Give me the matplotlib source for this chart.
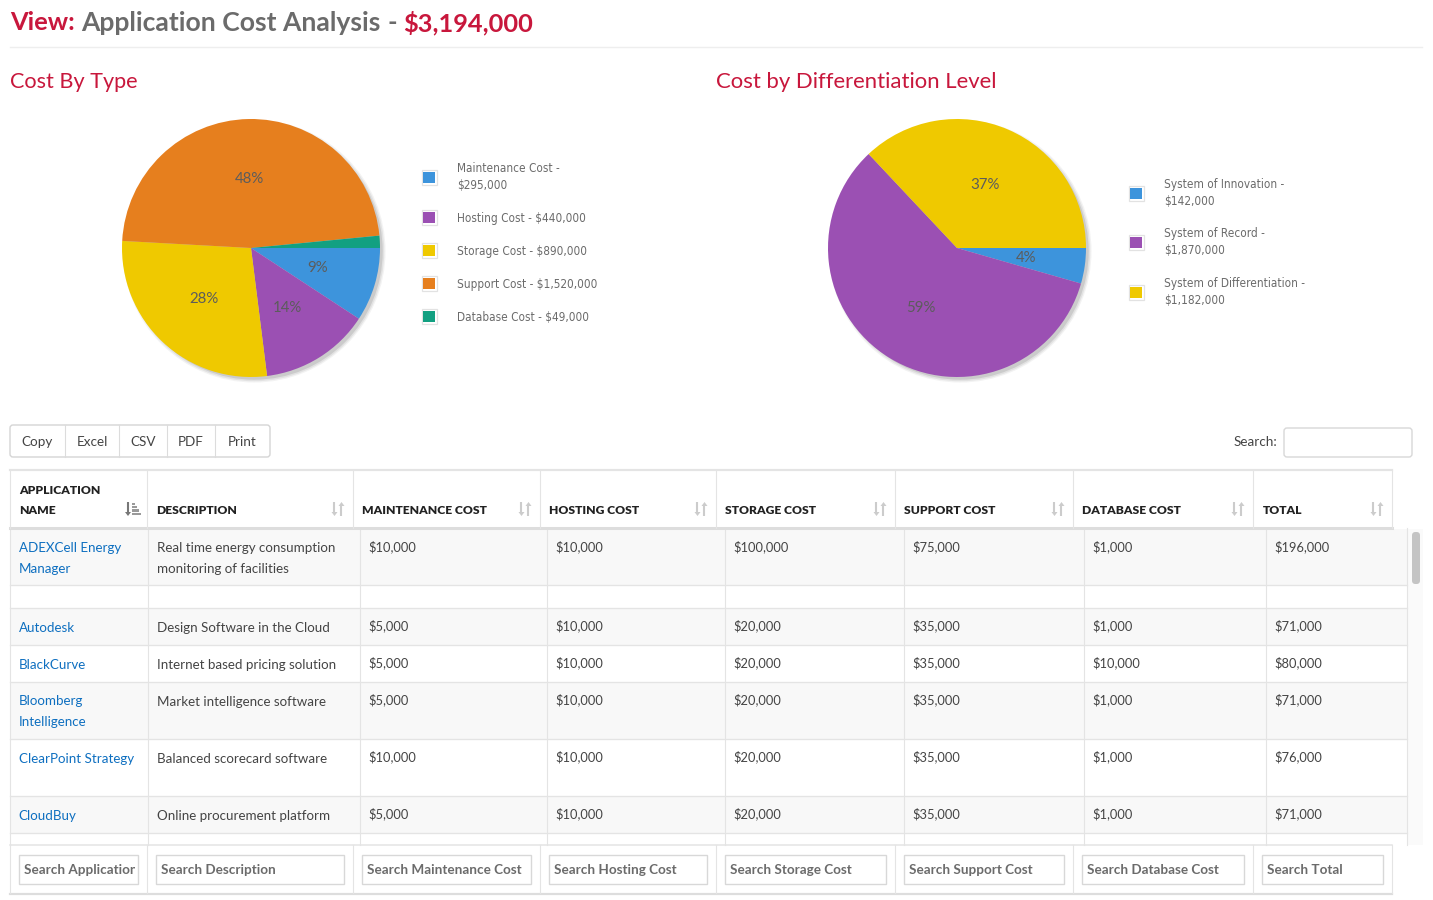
"""
Application cost dashboard: two pies, export buttons and the cost table.
"""

import matplotlib
matplotlib.use('Agg')
import matplotlib.pyplot as plt
from matplotlib.patches import Circle, FancyBboxPatch, Polygon, Rectangle

plt.rcParams['font.family'] = ['Lato', 'DejaVu Sans']

W, H = 1433, 900

RED = '#c8173c'
GREY = '#6b6b6b'
TEXT = '#444444'
LINK = '#0e6fc0'
LINE = '#e4e4e4'

# pie data
type_labels = ['Maintenance Cost -\n$295,000', 'Hosting Cost - $440,000', 'Storage Cost - $890,000',
               'Support Cost - $1,520,000', 'Database Cost - $49,000']
type_values = [295000, 440000, 890000, 1520000, 49000]
type_colors = ['#3d94dc', '#9b50b3', '#efc900', '#e67f1e', '#12a081']

level_labels = ['System of Innovation -\n$142,000', 'System of Record -\n$1,870,000',
                'System of Differentiation -\n$1,182,000']
level_values = [142000, 1870000, 1182000]
level_colors = ['#3d94dc', '#9b50b3', '#efc900']

# table data
headers = ['APPLICATION\nNAME', 'DESCRIPTION', 'MAINTENANCE COST', 'HOSTING COST', 'STORAGE COST',
           'SUPPORT COST', 'DATABASE COST', 'TOTAL']
footers = ['Search Application', 'Search Description', 'Search Maintenance Cost', 'Search Hosting Cost',
           'Search Storage Cost', 'Search Support Cost', 'Search Database Cost', 'Search Total']
names = ['ADEXCell Energy\nManager', '', 'Autodesk', 'BlackCurve', 'Bloomberg\nIntelligence',
         'ClearPoint Strategy', 'CloudBuy']
descriptions = ['Real time energy consumption\nmonitoring of facilities', '', 'Design Software in the Cloud',
                'Internet based pricing solution', 'Market intelligence software',
                'Balanced scorecard software', 'Online procurement platform']
maintenance = ['$10,000', '', '$5,000', '$5,000', '$5,000', '$10,000', '$5,000']
hosting = ['$10,000', '', '$10,000', '$10,000', '$10,000', '$10,000', '$10,000']
storage = ['$100,000', '', '$20,000', '$20,000', '$20,000', '$20,000', '$20,000']
support = ['$75,000', '', '$35,000', '$35,000', '$35,000', '$35,000', '$35,000']
database = ['$1,000', '', '$1,000', '$10,000', '$1,000', '$1,000', '$1,000']
total = ['$196,000', '', '$71,000', '$80,000', '$71,000', '$76,000', '$71,000']
buttons = ['Copy', 'Excel', 'CSV', 'PDF', 'Print']

# layout in screen pixels
head_x = [10, 147, 353, 540, 716, 895, 1073, 1253, 1392]
body_x = [10, 148, 360, 547, 725, 904, 1084, 1266, 1407]
row_y = [529, 585, 608, 645, 682, 739, 796, 833, 845]
button_x = [10, 65, 119, 167, 215, 270]


def pct_label(pct):
    return '%.0f%%' % pct if pct >= 2 else ''


def draw_pie(fig, cx, cy, values, colors):
    r = 129
    ax = fig.add_axes([(cx - r) / W, 1 - (cy + r) / H, 2 * r / W, 2 * r / H])
    # soft drop shadow to the lower right
    for grow, alpha in ((0.03, 0.07), (0.02, 0.1), (0.008, 0.16)):
        ax.add_patch(Circle((0.025, -0.025), 1 + grow - 0.012, color='#555555', alpha=alpha, lw=0, clip_on=False))
    wedges, _, autotexts = ax.pie(values, colors=colors, startangle=0, counterclock=False, radius=1,
                                  autopct=pct_label, pctdistance=0.54, frame=False,
                                  wedgeprops={'linewidth': 0})
    for t in autotexts:
        t.set_fontsize(10.8)
        t.set_color('#5c5c5c')
        px, py = t.get_position()
        t.set_position((px, py - 0.004))
    for w in wedges:
        w.set_clip_on(False)
    ax.set_xlim(-1, 1)
    ax.set_ylim(-1, 1)
    ax.axis('off')


def draw_legend(ax, x, ys, labels, colors):
    for y, label, color in zip(ys, labels, colors):
        ax.add_patch(Rectangle((x, y - 7.5), 15, 15, fc='white', ec='#e2e2e2', lw=0.9))
        ax.add_patch(Rectangle((x + 1.5, y - 5.5), 12, 11, fc=color, lw=0))
        offset = 0.2 if '\n' in label else 1.2
        ax.text(x + 35, y + offset, label, fontsize=8.5, color=GREY, va='center', ha='left', linespacing=1.4,
                family=['DejaVu Sans'], stretch='condensed')


def draw_arrow(ax, x, y0, y1, color):
    # y0 is the tail, y1 the tip
    head = 4 if y1 > y0 else -4
    ax.plot([x, x], [y0, y1 - head], color=color, lw=1.5, solid_capstyle='butt')
    ax.add_patch(Polygon([(x - 3, y1 - head), (x + 3, y1 - head), (x, y1)], fc=color, lw=0))


def draw_sort_icon(ax, x, y, active=False):
    if active:
        draw_arrow(ax, x - 4, y - 7, y + 7, '#777777')
        for i, bar in enumerate((3, 5, 7, 9)):
            ax.add_patch(Rectangle((x + 0.5, y - 6.5 + i * 3.4), bar, 2.2, fc='#9a9a9a', lw=0))
    else:
        draw_arrow(ax, x - 3.5, y - 7, y + 7, '#cccccc')
        draw_arrow(ax, x + 3.5, y + 7, y - 7, '#cccccc')


def draw_table(ax):
    # body rows with stripes
    for i in range(len(row_y) - 1):
        if i % 2 == 0:
            ax.add_patch(Rectangle((10, row_y[i]), 1397, row_y[i + 1] - row_y[i], fc='#f8f8f8', lw=0))
        if i < len(row_y) - 2:
            ax.plot([10, 1407], [row_y[i + 1]] * 2, color=LINE, lw=0.95)
    for x in body_x:
        ax.plot([x, x], [528, 845], color=LINE, lw=0.8)

    columns = [names, descriptions, maintenance, hosting, storage, support, database, total]
    for c, col in enumerate(columns):
        for r, value in enumerate(col):
            # baseline alignment goes by the last line of the text
            base = row_y[r] + (24 if c < 2 else 22.5) + 20 * value.count('\n')
            ax.text(body_x[c] + 8.8, base, value, fontsize=9.65 if c < 2 else 9.25,
                    color=LINK if c == 0 else TEXT, va='baseline', ha='left', linespacing=1.9)

    # header
    ax.add_patch(Rectangle((10, 470), 1382, 58, fc='white', lw=0))
    ax.plot([10, 1392], [470, 470], color=LINE, lw=1.6)
    ax.plot([10, 1392], [528, 528], color='#dddddd', lw=2.2)
    for x in head_x:
        ax.plot([x, x], [470, 528], color=LINE, lw=0.8)
    for c, label in enumerate(headers):
        ax.text(head_x[c] + 9.5, 514, label, fontsize=8.7, fontweight='heavy', color='#222222',
                va='baseline', ha='left', linespacing=1.98)
        draw_sort_icon(ax, head_x[c + 1] - 15, 509, active=c == 0)

    # scrollbar
    ax.add_patch(Rectangle((1407, 529), 16, 316, fc='#fafafa', lw=0))
    ax.add_patch(FancyBboxPatch((1412, 532), 8, 52, boxstyle='round,pad=0,rounding_size=3.5', fc='#c4c4c4', lw=0))

    # footer search boxes
    ax.add_patch(Rectangle((10, 845), 1382, 48, fc='white', lw=0))
    ax.plot([10, 1392], [845, 845], color=LINE, lw=1.1)
    ax.plot([10, 1392], [893.5, 893.5], color='#dddddd', lw=1.6)
    for x in head_x:
        ax.plot([x, x], [845, 893], color=LINE, lw=0.8)
    for c, label in enumerate(footers):
        left = head_x[c] + 9
        width = head_x[c + 1] - head_x[c] - 18
        ax.add_patch(Rectangle((left, 855), width, 29, fc='white', ec='#d8d8d8', lw=1))
        # long placeholders get cut at the box padding
        clip = Rectangle((left + 2, 856), width - 5, 27, transform=ax.transData)
        t = ax.text(head_x[c] + 14, 870, label, fontsize=9.7, fontweight='bold', color=GREY, va='center', ha='left',
                    clip_on=True)
        t.set_clip_path(clip)


def main():
    fig = plt.figure(figsize=(W / 100, H / 100), dpi=100, facecolor='white')
    ax = fig.add_axes([0, 0, 1, 1])
    ax.set_xlim(0, W)
    ax.set_ylim(H, 0)
    ax.axis('off')

    # title pieces
    for x, s, color, size in ((10, 'View:', RED, 18.3), (81, 'Application Cost Analysis', GREY, 19.1),
                              (388, '-', GREY, 18.5), (403, '$3,194,000', RED, 18.3)):
        ax.text(x, 23, s, fontsize=size, fontweight='bold', color=color, va='center', ha='left')
    ax.plot([10, 1422], [47, 47], color='#eeeeee', lw=1)

    ax.text(10, 82, 'Cost By Type', fontsize=15.6, color=RED, va='center', ha='left')
    ax.text(716, 82, 'Cost by Differentiation Level', fontsize=15.95, color=RED, va='center', ha='left')

    draw_pie(fig, 251, 248, type_values, type_colors)
    draw_pie(fig, 957, 248, level_values, level_colors)
    draw_legend(ax, 422, [177, 217, 250, 283, 316], type_labels, type_colors)
    draw_legend(ax, 1129, [193, 242, 292], level_labels, level_colors)

    # export buttons
    ax.add_patch(FancyBboxPatch((10, 425), 260, 32, boxstyle='round,pad=0,rounding_size=3', fc='white',
                                ec='#d5d5d5', lw=1))
    for i, label in enumerate(buttons):
        if i:
            ax.plot([button_x[i]] * 2, [425, 457], color='#dcdcdc', lw=0.8)
        ax.text((button_x[i] + button_x[i + 1]) / 2, 441.5, label, fontsize=9.7, color=TEXT, va='center', ha='center')

    ax.text(1277, 441.5, 'Search:', fontsize=9.7, color=TEXT, va='center', ha='right')
    ax.add_patch(FancyBboxPatch((1284, 428), 128, 29, boxstyle='round,pad=0,rounding_size=3', fc='white',
                                ec='#d8d8d8', lw=1))

    draw_table(ax)
    fig.savefig('out.png', dpi=100)


if __name__ == '__main__':
    main()
